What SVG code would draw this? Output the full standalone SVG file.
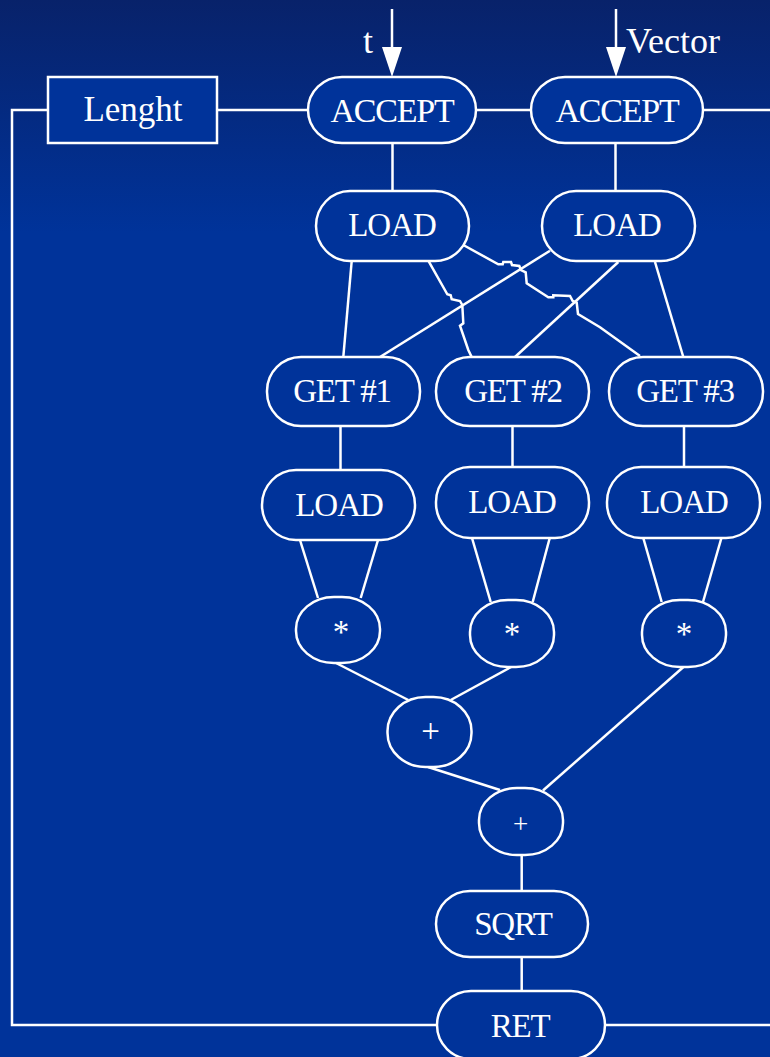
<svg xmlns="http://www.w3.org/2000/svg" width="770" height="1057" viewBox="0 0 770 1057">
  <defs>
    <linearGradient id="bg" x1="0" y1="0" x2="0" y2="1">
      <stop offset="0" stop-color="#08226a"/>
      <stop offset="0.22" stop-color="#00339a"/>
      <stop offset="1" stop-color="#00339a"/>
    </linearGradient>
    <style>
      .node rect { fill: #00339a; stroke: #ffffff; stroke-width: 2.5; }
      .node text, .label { fill: #ffffff; font-family: "Liberation Serif", "Times New Roman", serif; font-size: 33px; text-anchor: middle; }
      .label { text-anchor: start; font-size: 36px; }
      .edges line, .edges polyline { stroke: #ffffff; stroke-width: 2.5; fill: none; }
      .edges .head { fill: #ffffff; stroke: none; }
    </style>
  </defs>

  <rect x="0" y="0" width="770" height="1057" fill="url(#bg)"/>

  <!-- connectors -->
  <g class="edges" id="edges">
    <!-- inputs -->
    <line x1="392" y1="9" x2="392" y2="50"/>
    <polygon class="head" points="382,47 402,47 392,77"/>
    <line x1="616" y1="9" x2="616" y2="50"/>
    <polygon class="head" points="606,47 626,47 616,77"/>

    <!-- top chain -->
    <line x1="217" y1="110" x2="308" y2="110"/>
    <line x1="476" y1="110" x2="531" y2="110"/>
    <line x1="703" y1="110" x2="770" y2="110"/>
    <polyline points="48,110 12,110 12,1025 437,1025"/>
    <line x1="605" y1="1025" x2="770" y2="1025"/>

    <!-- accept to load -->
    <line x1="392.5" y1="143" x2="392.5" y2="191"/>
    <line x1="615.5" y1="143" x2="615.5" y2="191"/>

    <!-- load to get -->
    <line x1="351.7" y1="261" x2="343.3" y2="357"/>
    <line x1="550" y1="250.7" x2="380" y2="357"/>
    <line x1="618.3" y1="262" x2="515" y2="357"/>
    <line x1="655" y1="262" x2="683.3" y2="357"/>
    <polyline points="463.3,245 498.3,264.3 502.7,264.3 503.3,262 511,262 512,265 519.3,266 521,270 525.7,272.3 526.7,283.3 548.3,297.3 553.3,297.3 553.3,295.3 570,296 572.7,301 576.7,302.7 578,314 600,327.3 640,356"/>
    <polyline points="428.3,260.7 447.3,294.3 450.7,295.3 451.7,299.3 460,301 462.3,305 463.3,323.3 460,325.7 468.3,350 471.7,357"/>

    <!-- get to load -->
    <line x1="340.5" y1="426" x2="340.5" y2="470"/>
    <line x1="512.5" y1="426" x2="512.5" y2="467"/>
    <line x1="684" y1="426" x2="684" y2="467"/>

    <!-- load to multiply -->
    <line x1="300" y1="540" x2="318" y2="598"/>
    <line x1="378" y1="540" x2="360.7" y2="598"/>
    <line x1="471.7" y1="537" x2="490.7" y2="602"/>
    <line x1="550" y1="537" x2="532.7" y2="602"/>
    <line x1="643" y1="537" x2="661.7" y2="602"/>
    <line x1="721.7" y1="537" x2="703" y2="602"/>

    <!-- sums -->
    <line x1="336" y1="663" x2="408.3" y2="700"/>
    <line x1="512" y1="666.5" x2="450.7" y2="700"/>
    <line x1="428" y1="767" x2="500" y2="790"/>
    <line x1="684" y1="666.5" x2="543" y2="790.5"/>
    <line x1="521.7" y1="855" x2="521.7" y2="891"/>
    <line x1="521.7" y1="957" x2="521.7" y2="991"/>
  </g>

  <!-- input labels -->
  <text class="label" x="363" y="53">t</text>
  <text class="label" x="626" y="53">Vector</text>

  <g class="node" id="lenght">
    <rect x="48" y="77" width="169" height="66" rx="0" ry="0"/>
    <text x="133" y="121" style="font-size:35px">Lenght</text>
  </g>
  <g class="node" id="accept-t">
    <rect x="308" y="77" width="168" height="66" rx="34" ry="33"/>
    <text x="392" y="122" style="font-size:34px;letter-spacing:-1.2px">ACCEPT</text>
  </g>
  <g class="node" id="accept-vector">
    <rect x="531" y="77" width="172" height="66" rx="34" ry="33"/>
    <text x="617" y="122" style="font-size:34px;letter-spacing:-1.2px">ACCEPT</text>
  </g>

  <g class="node" id="load-t">
    <rect x="316" y="191" width="153" height="70" rx="34" ry="35"/>
    <text x="392" y="236" style="letter-spacing:-1px">LOAD</text>
  </g>
  <g class="node" id="load-vector">
    <rect x="542" y="191" width="153" height="70" rx="34" ry="35"/>
    <text x="617" y="236" style="letter-spacing:-1px">LOAD</text>
  </g>

  <g class="node" id="get1">
    <rect x="267" y="357" width="153" height="69" rx="34" ry="34"/>
    <text x="342" y="402" style="letter-spacing:-1.2px">GET #1</text>
  </g>
  <g class="node" id="get2">
    <rect x="436" y="357" width="153" height="69" rx="34" ry="34"/>
    <text x="513" y="402" style="letter-spacing:-1.2px">GET #2</text>
  </g>
  <g class="node" id="get3">
    <rect x="609" y="357" width="154" height="69" rx="34" ry="34"/>
    <text x="685" y="402" style="letter-spacing:-1.2px">GET #3</text>
  </g>

  <g class="node" id="load1">
    <rect x="262" y="470" width="153" height="70" rx="34" ry="35"/>
    <text x="339" y="516" style="letter-spacing:-1px">LOAD</text>
  </g>
  <g class="node" id="load2">
    <rect x="436" y="467" width="153" height="71" rx="34" ry="35"/>
    <text x="512" y="513" style="letter-spacing:-1px">LOAD</text>
  </g>
  <g class="node" id="load3">
    <rect x="607" y="467" width="153" height="71" rx="34" ry="35"/>
    <text x="684" y="513" style="letter-spacing:-1px">LOAD</text>
  </g>

  <g class="node" id="mul1">
    <rect x="296" y="597" width="84" height="66" rx="38" ry="32"/>
    <text x="341" y="643">*</text>
  </g>
  <g class="node" id="mul2">
    <rect x="470" y="600" width="84" height="67" rx="38" ry="32"/>
    <text x="512" y="645">*</text>
  </g>
  <g class="node" id="mul3">
    <rect x="642" y="600" width="84" height="67" rx="38" ry="32"/>
    <text x="684" y="645">*</text>
  </g>

  <g class="node" id="add1">
    <rect x="387.5" y="697" width="84" height="70" rx="38" ry="34"/>
    <text x="430.5" y="742">+</text>
  </g>
  <g class="node" id="add2">
    <rect x="479" y="788" width="84" height="67" rx="38" ry="32"/>
    <text x="520.5" y="833" style="font-size:27px">+</text>
  </g>

  <g class="node" id="sqrt">
    <rect x="436" y="891" width="152" height="66" rx="34" ry="33"/>
    <text x="513" y="935" style="letter-spacing:-1.2px">SQRT</text>
  </g>
  <g class="node" id="ret">
    <rect x="437" y="991" width="168" height="68" rx="34" ry="34"/>
    <text x="520" y="1037" style="letter-spacing:-1.2px">RET</text>
  </g>
</svg>
